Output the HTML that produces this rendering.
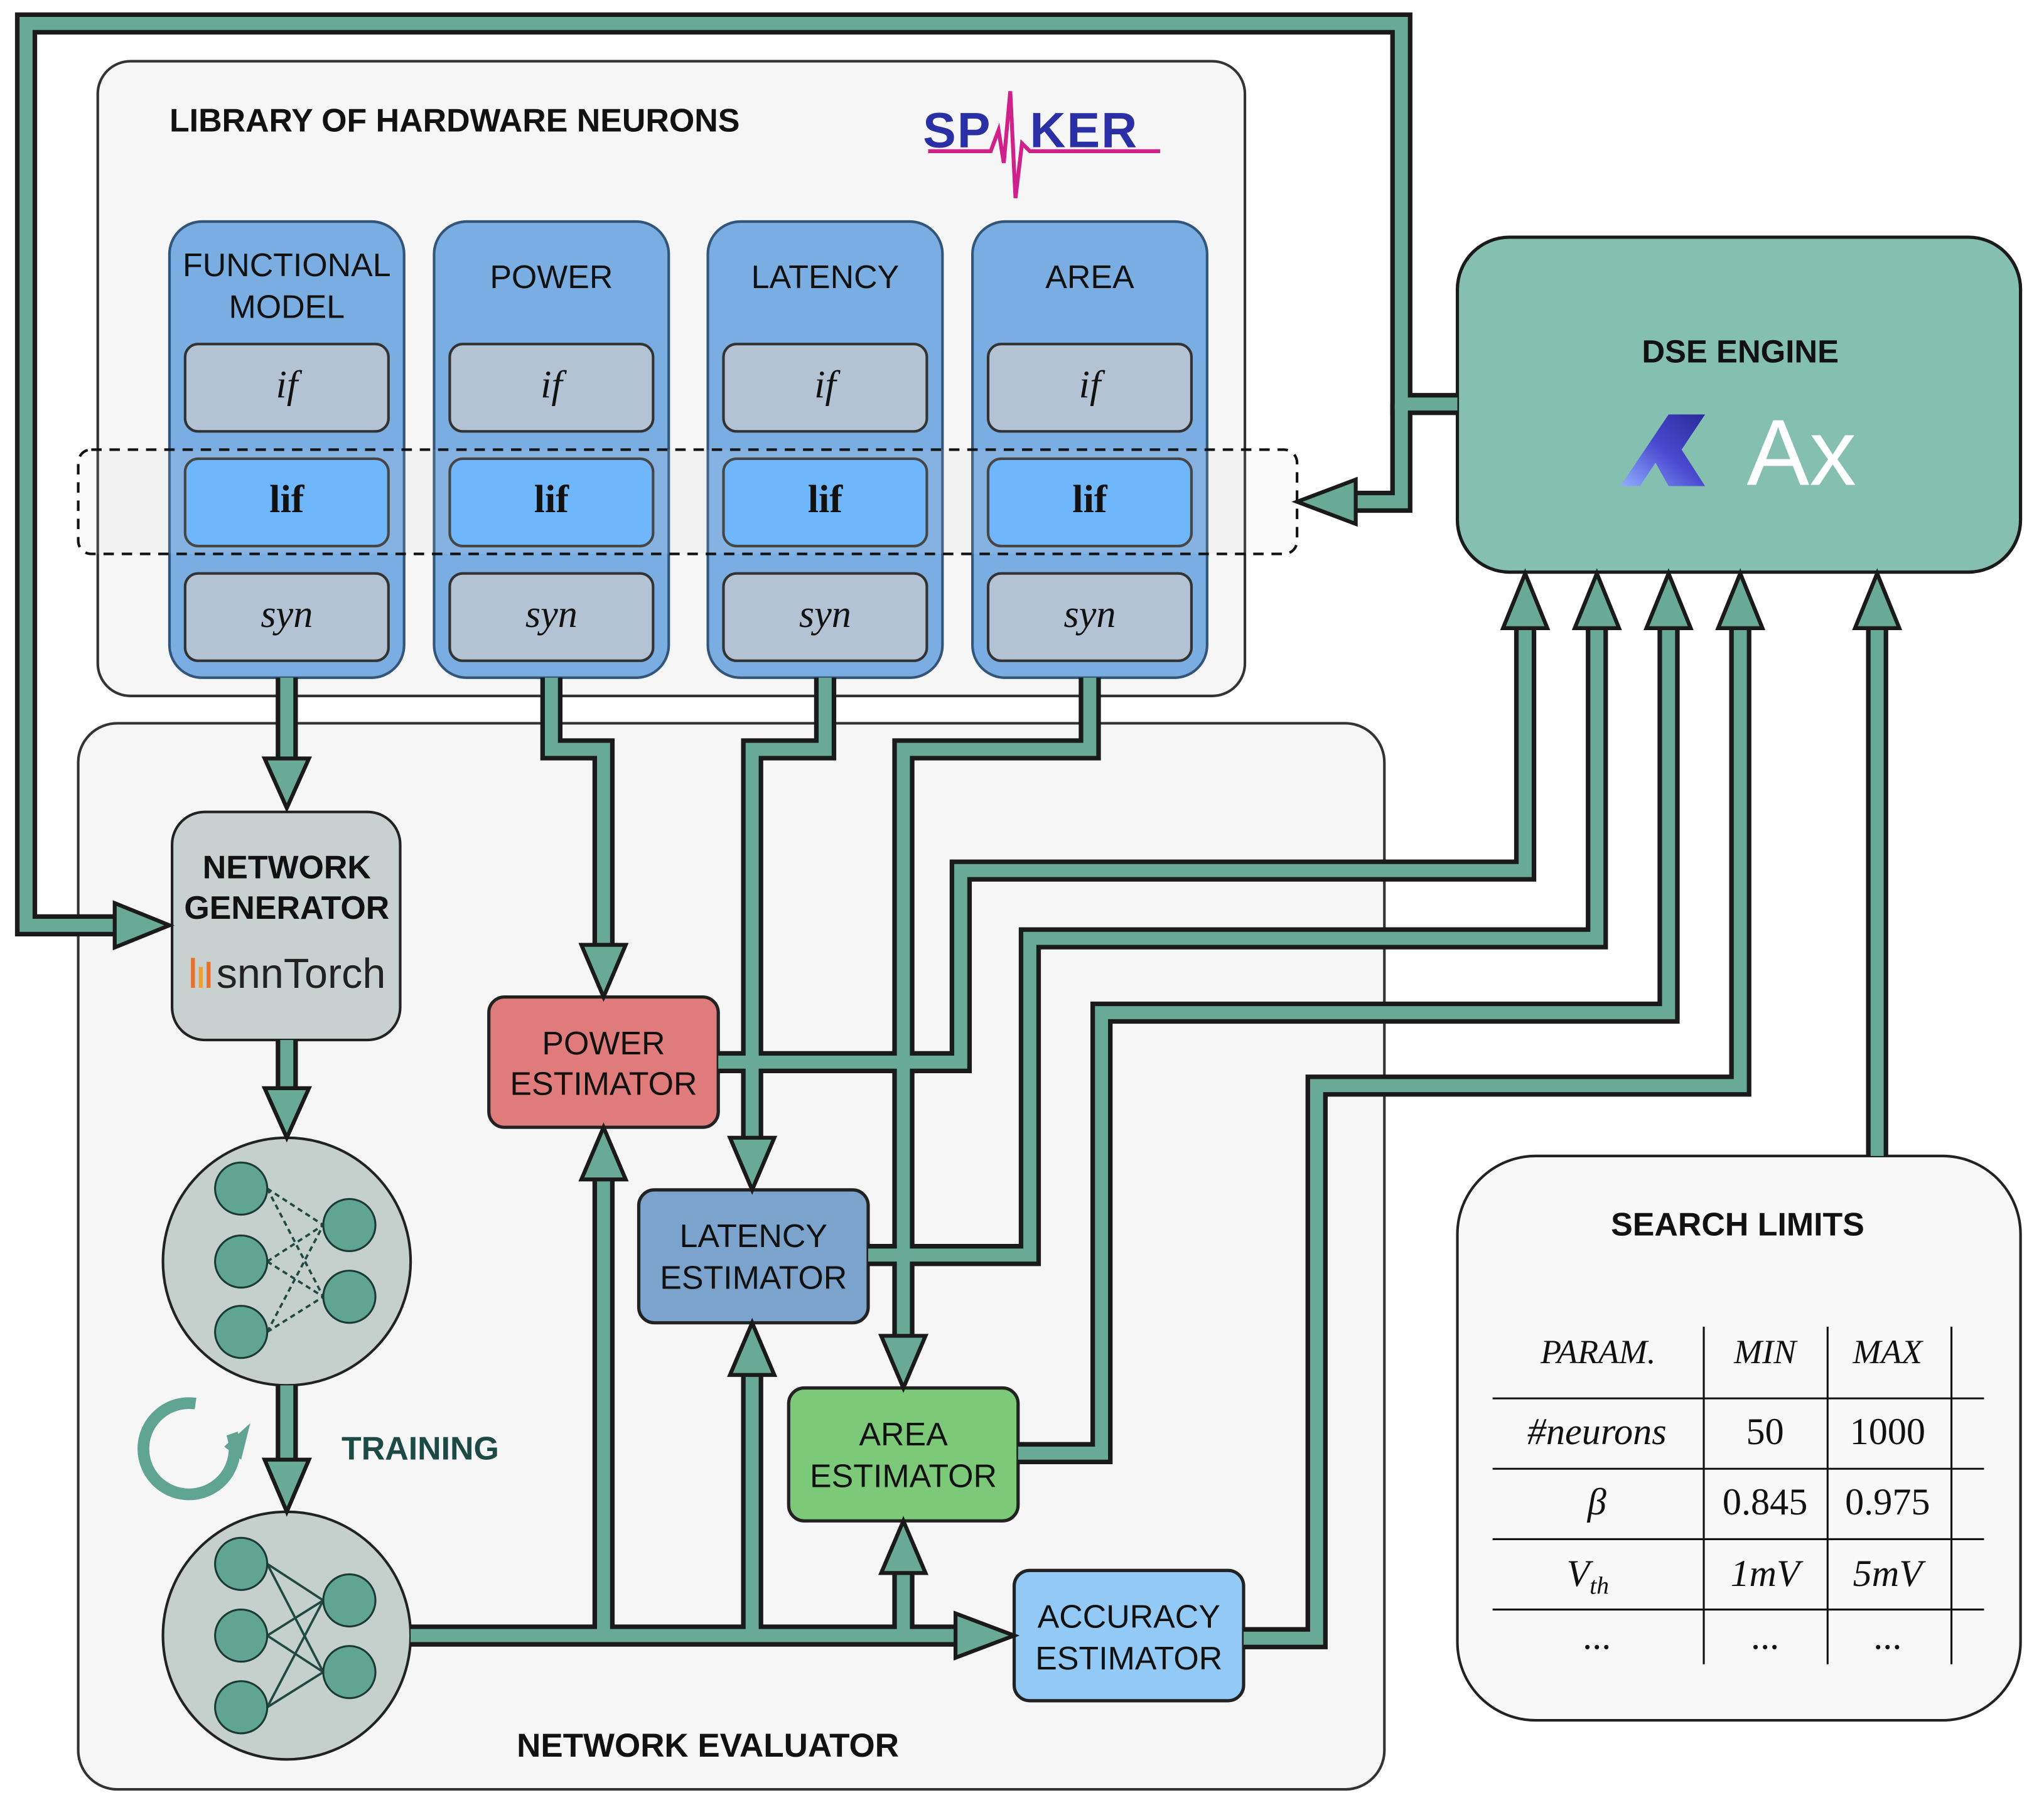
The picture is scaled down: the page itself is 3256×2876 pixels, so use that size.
<!DOCTYPE html>
<html><head><meta charset="utf-8"><style>html,body{margin:0;padding:0;background:#fff}svg{display:block}</style></head>
<body>
<svg xmlns="http://www.w3.org/2000/svg" width="3256" height="2876" viewBox="0 0 1568 1385" font-family="'Liberation Sans', sans-serif">
<defs>
<linearGradient id="ax" x1="0" y1="1" x2="1" y2="0"><stop offset="0" stop-color="#8fb0ff"/><stop offset="0.5" stop-color="#4a4ad0"/><stop offset="1" stop-color="#2a2a9a"/></linearGradient>
</defs>
<rect width="1568" height="1385" fill="#fff"/>

<!-- Library box -->
<rect x="75" y="47" width="880" height="487" rx="25" fill="#f6f6f6" stroke="#333" stroke-width="2"/>
<text x="130" y="101" font-size="25" font-weight="bold" fill="#111">LIBRARY OF HARDWARE NEURONS</text>
<!-- SPIKER logo -->
<text x="708" y="113" font-size="38" font-weight="900" fill="#2b2fa5" letter-spacing="1">SP</text>
<text x="790" y="113" font-size="38" font-weight="900" fill="#2b2fa5" letter-spacing="1">KER</text>
<polyline points="712,116 760,116 766,100 770,125 775,70 779,152 784,110 790,116 890,116" fill="none" stroke="#d0208a" stroke-width="3"/>

<!-- Columns -->
<g stroke="#33557a" stroke-width="2">
<rect x="130" y="170" width="180" height="350" rx="25" fill="#7aaee3"/>
<rect x="333" y="170" width="180" height="350" rx="25" fill="#7aaee3"/>
<rect x="543" y="170" width="180" height="350" rx="25" fill="#7aaee3"/>
<rect x="746" y="170" width="180" height="350" rx="25" fill="#7aaee3"/>
</g>
<g font-size="25" fill="#111" text-anchor="middle">
<text x="220" y="212">FUNCTIONAL</text><text x="220" y="244">MODEL</text>
<text x="423" y="221">POWER</text>
<text x="633" y="221">LATENCY</text>
<text x="836" y="221">AREA</text>
</g>
<g stroke="#333" stroke-width="2">
<rect x="142" y="264" width="156" height="67" rx="10" fill="#b4c3d3"/>
<rect x="345" y="264" width="156" height="67" rx="10" fill="#b4c3d3"/>
<rect x="555" y="264" width="156" height="67" rx="10" fill="#b4c3d3"/>
<rect x="758" y="264" width="156" height="67" rx="10" fill="#b4c3d3"/>
<rect x="142" y="352" width="156" height="67" rx="10" fill="#62b2ff"/>
<rect x="345" y="352" width="156" height="67" rx="10" fill="#62b2ff"/>
<rect x="555" y="352" width="156" height="67" rx="10" fill="#62b2ff"/>
<rect x="758" y="352" width="156" height="67" rx="10" fill="#62b2ff"/>
<rect x="142" y="440" width="156" height="67" rx="10" fill="#b4c3d3"/>
<rect x="345" y="440" width="156" height="67" rx="10" fill="#b4c3d3"/>
<rect x="555" y="440" width="156" height="67" rx="10" fill="#b4c3d3"/>
<rect x="758" y="440" width="156" height="67" rx="10" fill="#b4c3d3"/>
</g>
<rect x="60" y="345" width="935" height="80" rx="10" fill="rgba(210,210,210,0.12)" stroke="#111" stroke-width="2" stroke-dasharray="8,6"/>
<g font-family="'Liberation Serif', serif" font-size="30" fill="#111" text-anchor="middle">
<g font-style="italic"><text x="220" y="305">if</text><text x="423" y="305">if</text><text x="633" y="305">if</text><text x="836" y="305">if</text></g>
<g font-weight="bold"><text x="220" y="393">lif</text><text x="423" y="393">lif</text><text x="633" y="393">lif</text><text x="836" y="393">lif</text></g>
<g font-style="italic"><text x="220" y="481">syn</text><text x="423" y="481">syn</text><text x="633" y="481">syn</text><text x="836" y="481">syn</text></g>
</g>

<!-- DSE engine -->
<rect x="1118" y="182" width="432" height="257" rx="40" fill="#85bfb0" stroke="#1a1a1a" stroke-width="2.5"/>
<text x="1335" y="278" font-size="24.5" font-weight="bold" fill="#111" text-anchor="middle">DSE ENGINE</text>
<polygon points="1243,373 1280,318 1308,318 1290,345 1308,373 1280,373 1270,355 1258,373" fill="url(#ax)"/>
<text x="1340" y="372" font-size="72" fill="#fff">Ax</text>

<!-- Network evaluator -->
<rect x="60" y="555" width="1002" height="818" rx="30" fill="#f6f6f6" stroke="#333" stroke-width="2"/>
<text x="543" y="1348" font-size="25.5" font-weight="bold" fill="#111" text-anchor="middle">NETWORK EVALUATOR</text>

<rect x="132" y="623" width="175" height="175" rx="25" fill="#c9d1d0" stroke="#222" stroke-width="2"/>
<text x="220" y="674" font-size="25" font-weight="bold" fill="#111" text-anchor="middle">NETWORK</text>
<text x="220" y="705" font-size="25" font-weight="bold" fill="#111" text-anchor="middle">GENERATOR</text>
<g stroke-width="3"><line x1="148" y1="758" x2="148" y2="735" stroke="#e8702a"/><line x1="154" y1="758" x2="154" y2="742" stroke="#f0a030"/><line x1="160" y1="758" x2="160" y2="738" stroke="#e8702a"/></g>
<text x="166" y="758" font-size="32" fill="#222">snnTorch</text>

<!-- circles -->
<circle cx="220" cy="968" r="95" fill="#c5cfcc" stroke="#222" stroke-width="2"/>
<circle cx="220" cy="1255" r="95" fill="#c5cfcc" stroke="#222" stroke-width="2"/>
<g stroke="#1f4a40" stroke-width="1.8" stroke-dasharray="4,3">
<line x1="205" y1="912" x2="248" y2="940"/><line x1="205" y1="912" x2="248" y2="995"/>
<line x1="205" y1="968" x2="248" y2="940"/><line x1="205" y1="968" x2="248" y2="995"/>
<line x1="205" y1="1022" x2="248" y2="940"/><line x1="205" y1="1022" x2="248" y2="995"/>
</g>
<g stroke="#1f4a40" stroke-width="1.8">
<line x1="205" y1="1200" x2="248" y2="1228"/><line x1="205" y1="1200" x2="248" y2="1283"/>
<line x1="205" y1="1255" x2="248" y2="1228"/><line x1="205" y1="1255" x2="248" y2="1283"/>
<line x1="205" y1="1310" x2="248" y2="1228"/><line x1="205" y1="1310" x2="248" y2="1283"/>
</g>
<g fill="#5fa592" stroke="#1a3a33" stroke-width="1.5">
<circle cx="185" cy="912" r="20"/><circle cx="185" cy="968" r="20"/><circle cx="185" cy="1022" r="20"/>
<circle cx="268" cy="940" r="20"/><circle cx="268" cy="995" r="20"/>
<circle cx="185" cy="1200" r="20"/><circle cx="185" cy="1255" r="20"/><circle cx="185" cy="1310" r="20"/>
<circle cx="268" cy="1228" r="20"/><circle cx="268" cy="1283" r="20"/>
</g>
<!-- training icon -->
<path d="M178,1100 A35,35 0 1 1 150,1077" fill="none" stroke="#5fa592" stroke-width="9"/>
<polygon points="172,1110 192,1092 185,1120" fill="#5fa592"/>
<text x="262" y="1120" font-size="25" font-weight="bold" fill="#1d4a45">TRAINING</text>

<!-- estimators -->
<rect x="375" y="765" width="176" height="100" rx="12" fill="#e07b7b" stroke="#222" stroke-width="2.5"/>
<rect x="490" y="913" width="176" height="102" rx="12" fill="#7ba3cc" stroke="#222" stroke-width="2.5"/>
<rect x="605" y="1065" width="176" height="102" rx="12" fill="#7dc97a" stroke="#222" stroke-width="2.5"/>
<rect x="778" y="1205" width="176" height="100" rx="12" fill="#93c9f5" stroke="#222" stroke-width="2.5"/>
<g font-size="25" fill="#111" text-anchor="middle">
<text x="463" y="809">POWER</text><text x="463" y="840">ESTIMATOR</text>
<text x="578" y="957">LATENCY</text><text x="578" y="989">ESTIMATOR</text>
<text x="693" y="1109">AREA</text><text x="693" y="1141">ESTIMATOR</text>
<text x="866" y="1249">ACCURACY</text><text x="866" y="1281">ESTIMATOR</text>
</g>

<!-- search limits -->
<rect x="1118" y="887" width="432" height="433" rx="60" fill="#f8f8f8" stroke="#222" stroke-width="2"/>
<text x="1333" y="948" font-size="25" font-weight="bold" fill="#111" text-anchor="middle">SEARCH LIMITS</text>
<g stroke="#111" stroke-width="1.5">
<line x1="1145" y1="1073" x2="1522" y2="1073"/><line x1="1145" y1="1127" x2="1522" y2="1127"/>
<line x1="1145" y1="1181" x2="1522" y2="1181"/><line x1="1145" y1="1235" x2="1522" y2="1235"/>
<line x1="1307" y1="1018" x2="1307" y2="1277"/><line x1="1402" y1="1018" x2="1402" y2="1277"/><line x1="1497" y1="1018" x2="1497" y2="1277"/>
</g>
<g font-family="'Liberation Serif', serif" font-size="29" fill="#111" text-anchor="middle">
<g font-style="italic" font-size="26"><text x="1226" y="1046">PARAM.</text><text x="1354" y="1046">MIN</text><text x="1448" y="1046">MAX</text></g>
<text x="1225" y="1108" font-style="italic">#neurons</text><text x="1354" y="1108">50</text><text x="1448" y="1108">1000</text>
<text x="1225" y="1162" font-style="italic">β</text><text x="1354" y="1162">0.845</text><text x="1448" y="1162">0.975</text>
<text x="1218" y="1217" font-style="italic">V<tspan font-size="19" dy="6">th</tspan></text><text x="1354" y="1217" font-style="italic">1mV</text><text x="1448" y="1217" font-style="italic">5mV</text>
<text x="1225" y="1265">...</text><text x="1354" y="1265">...</text><text x="1448" y="1265">...</text>
</g>

<!-- pipes -->
<g fill="none" stroke-linejoin="miter" stroke-linecap="butt">
<g stroke="#1a1a1a" stroke-width="17">
<path d="M1118,310 H1075 V18 H20 V710 H88"/>
<path d="M1075,310 V385 H1040"/>
<path d="M220,520 V582"/>
<path d="M423,520 V575 H463 V725"/>
<path d="M633,520 V575 H577 V873"/>
<path d="M836,520 V575 H693 V1025"/>
<path d="M220,798 V835"/>
<path d="M220,1063 V1120"/>
<path d="M315,1255 H733"/>
<path d="M463,1255 V905"/>
<path d="M577,1255 V1055"/>
<path d="M693,1255 V1207"/>
<path d="M551,815 H737 V668 H1170 V480"/>
<path d="M666,963 H790 V720 H1225 V480"/>
<path d="M781,1115 H845 V777 H1280 V480"/>
<path d="M954,1257 H1010 V833 H1335 V480"/>
<path d="M1440,887 V480"/>
</g>
<g stroke="#68aa95" stroke-width="10">
<path d="M1118,310 H1075 V18 H20 V710 H88"/>
<path d="M1075,310 V385 H1040"/>
<path d="M220,520 V582"/>
<path d="M423,520 V575 H463 V725"/>
<path d="M633,520 V575 H577 V873"/>
<path d="M836,520 V575 H693 V1025"/>
<path d="M220,798 V835"/>
<path d="M220,1063 V1120"/>
<path d="M315,1255 H733"/>
<path d="M463,1255 V905"/>
<path d="M577,1255 V1055"/>
<path d="M693,1255 V1207"/>
<path d="M551,815 H737 V668 H1170 V480"/>
<path d="M666,963 H790 V720 H1225 V480"/>
<path d="M781,1115 H845 V777 H1280 V480"/>
<path d="M954,1257 H1010 V833 H1335 V480"/>
<path d="M1440,887 V480"/>
</g>
</g>
<!-- arrowheads -->
<g fill="#68aa95" stroke="#1a1a1a" stroke-width="3" stroke-linejoin="miter">
<polygon points="88,693 88,727 130,710"/>
<polygon points="1040,368 1040,402 995,385"/>
<polygon points="203,582 237,582 220,620"/>
<polygon points="446,725 480,725 463,765"/>
<polygon points="560,873 594,873 577,913"/>
<polygon points="676,1025 710,1025 693,1065"/>
<polygon points="203,835 237,835 220,873"/>
<polygon points="203,1120 237,1120 220,1160"/>
<polygon points="733,1238 733,1272 778,1255"/>
<polygon points="446,905 480,905 463,865"/>
<polygon points="560,1055 594,1055 577,1015"/>
<polygon points="676,1207 710,1207 693,1167"/>
<polygon points="1153,482 1187,482 1170,440"/>
<polygon points="1208,482 1242,482 1225,440"/>
<polygon points="1263,482 1297,482 1280,440"/>
<polygon points="1318,482 1352,482 1335,440"/>
<polygon points="1423,482 1457,482 1440,440"/>
</g>
</svg>
</body></html>
